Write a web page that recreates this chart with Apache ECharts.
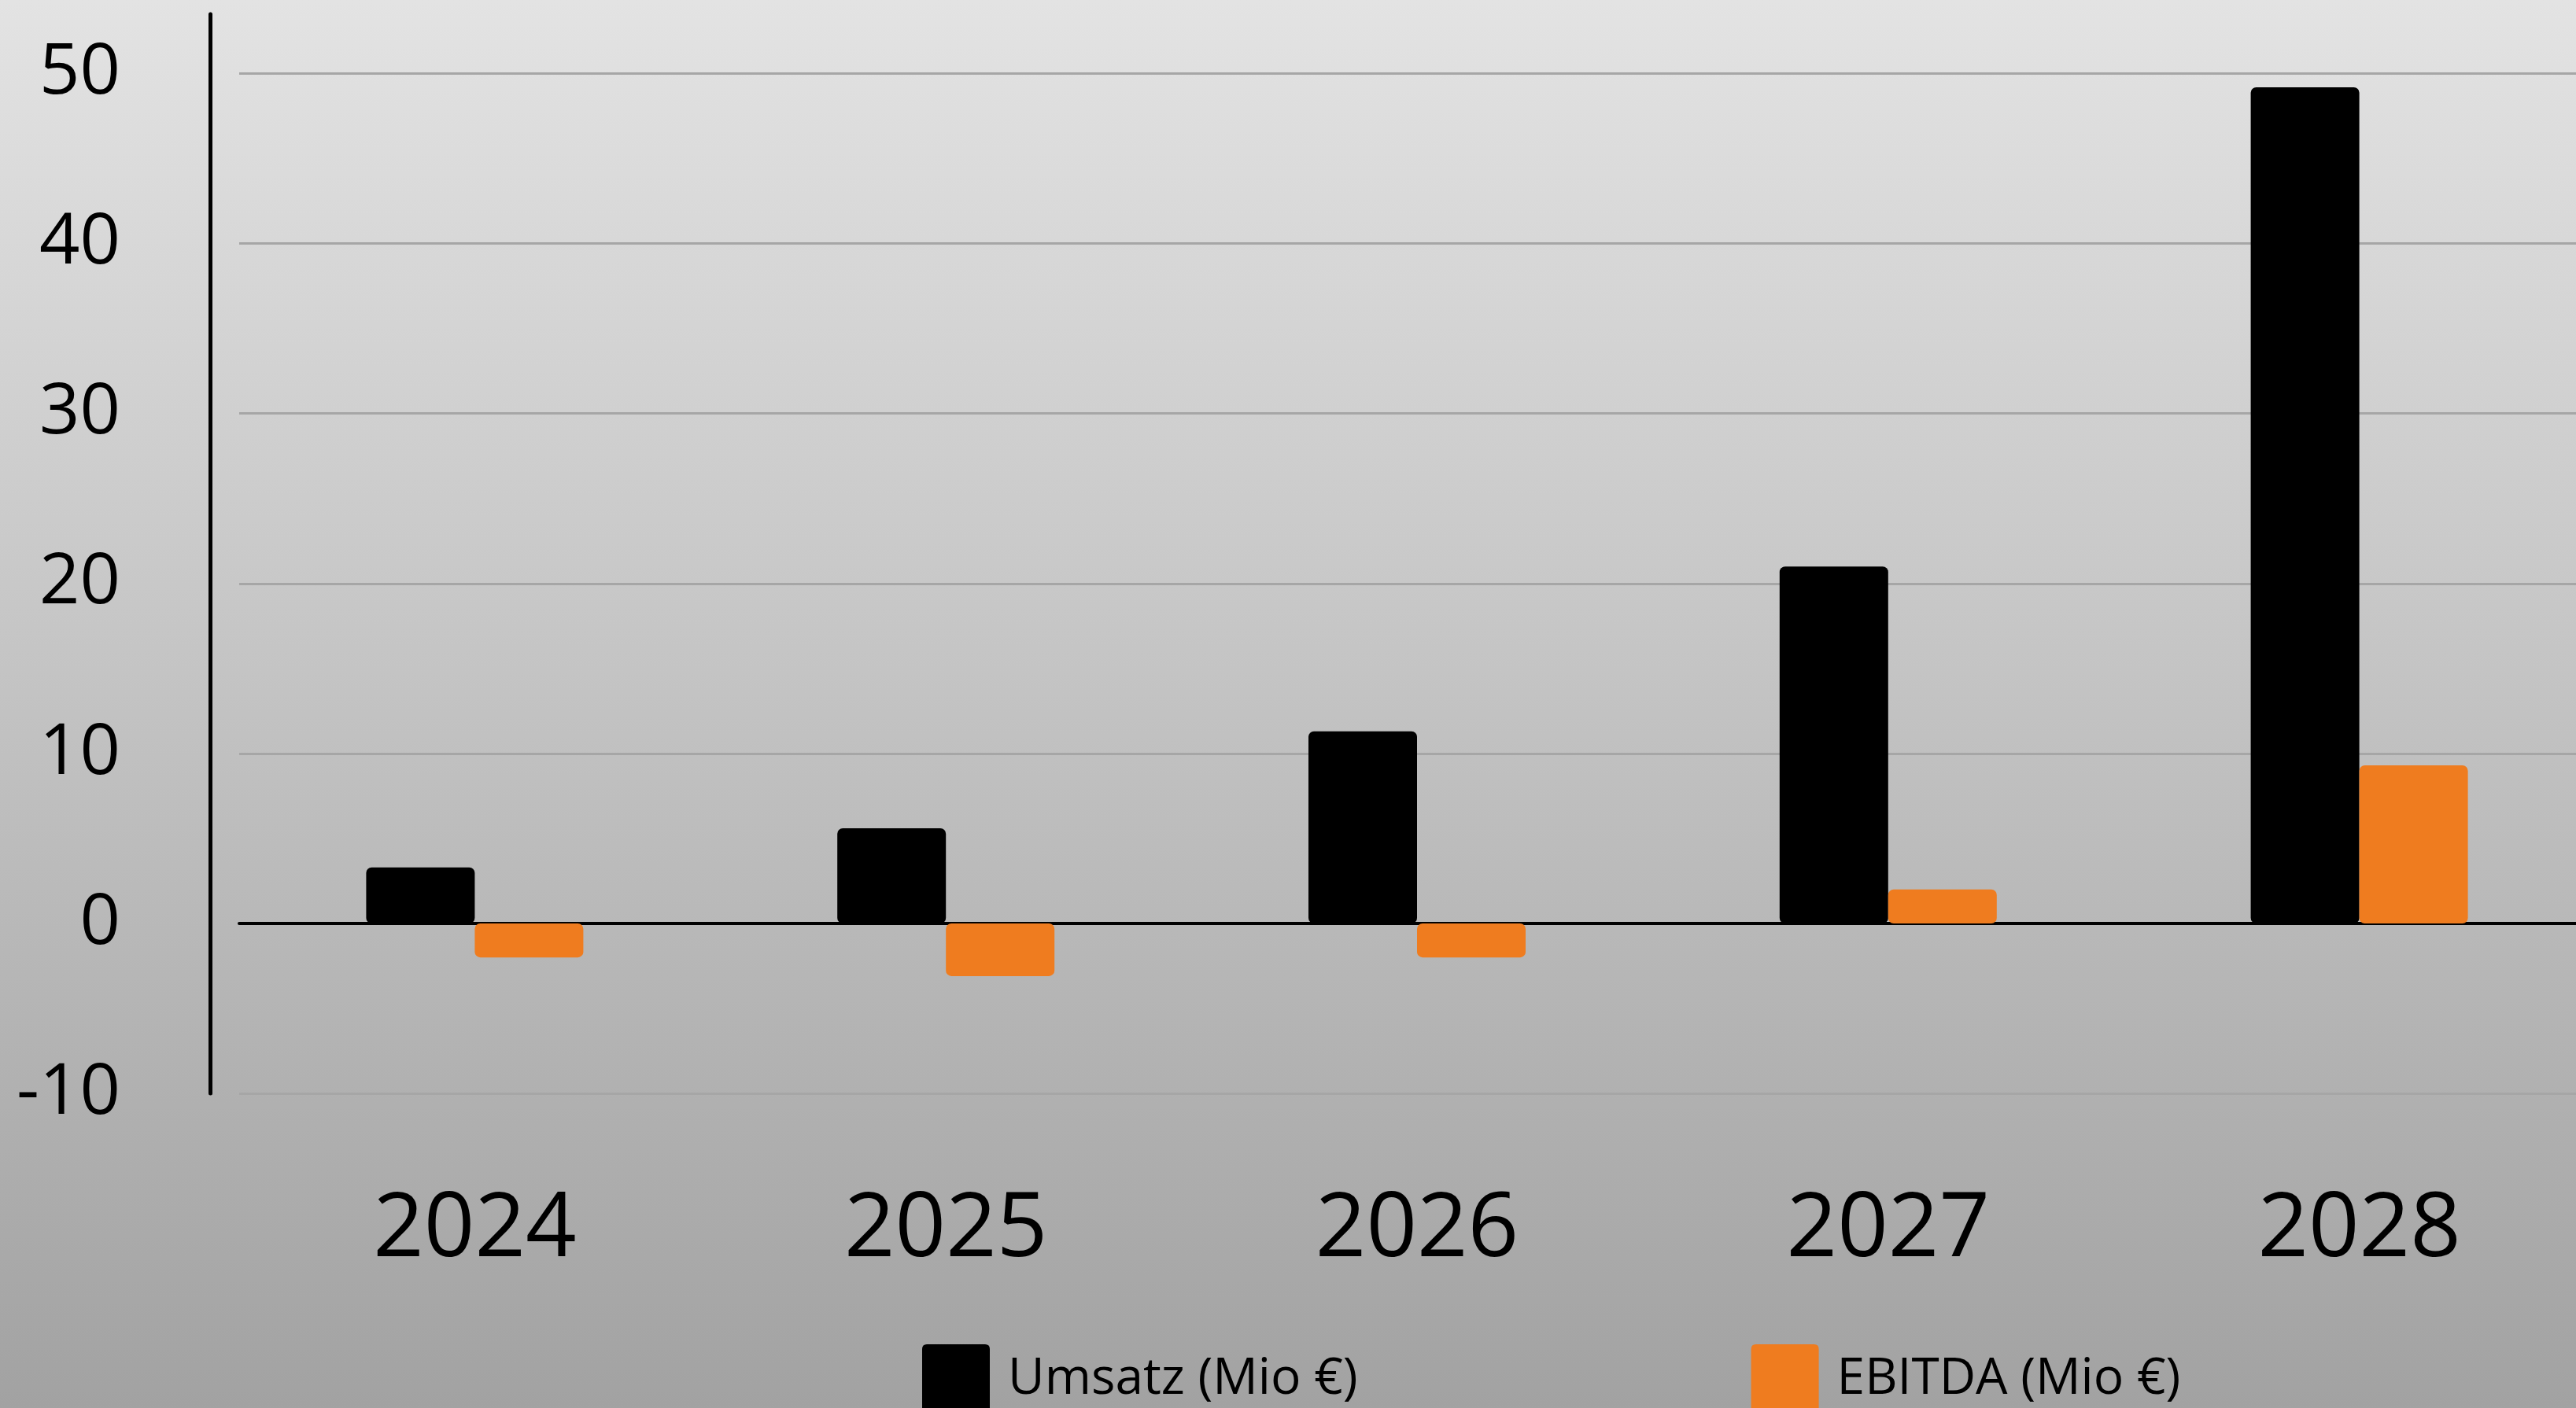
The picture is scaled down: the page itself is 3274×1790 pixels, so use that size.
<!DOCTYPE html>
<html>
   <head>
       <meta charset="utf-8">
       <style>
           html, body { margin: 0; padding: 0; overflow: hidden; }
       </style>
   </head>
   <body>
       <div id="container" style="width: 3274px;height: 1790px;"></div>
   </body>
</html>
<script type="text/javascript" src="https://cdn.jsdelivr.net/npm/echarts@6/dist/echarts.min.js"></script>
<script type="text/javascript">
    // Daten
    const years = ['2024', '2025', '2026', '2027', '2028'];
    const umsatz = [3.3, 5.6, 11.3, 21.0, 49.2];
    const ebitda = [-2.0, -3.1, -2.0, 2.0, 9.3];
    const seriesNames = ['Umsatz (Mio €)', 'EBITDA (Mio €)'];
    const yMin = -10;
    const yMax = 53.5;
    const yStep = 10;

    drawChart();
    function drawChart() {
        const font = 'Open Sans';
        const dom = document.getElementById("container");
        const myChart = echarts.init(dom);
        const option = {
            animation: false,
            backgroundColor: {
                type: 'linear', x: 0, y: 0, x2: 0, y2: 1,
                colorStops: [
                    {offset: 0, color: '#e3e3e3'},
                    {offset: 1, color: '#a2a2a2'}
                ]
            },
            textStyle: { fontFamily: font },
            grid: {
                left: 304,
                right: -24,
                top: 18,
                bottom: 400,
                outerBoundsMode: 'none',
                containLabel: false
            },
            legend: {
                left: 1167,
                top: 1704,
                itemWidth: 86,
                itemHeight: 90,
                itemGap: 500,
                // kleines Rechteck mit leicht runden Ecken
                icon: 'path://M6,0 H80 Q86,0 86,6 V84 Q86,90 80,90 H6 Q0,90 0,84 V6 Q0,0 6,0 Z',
                textStyle: {
                    fontFamily: font,
                    fontSize: 64,
                    color: '#000',
                    padding: [0, 0, 0, 18]
                },
                data: seriesNames
            },
            xAxis: {
                type: 'category',
                data: years,
                axisTick: { show: false },
                axisLine: {
                    onZero: true,
                    lineStyle: { color: '#000', width: 4 }
                },
                axisLabel: {
                    margin: 118,
                    fontSize: 113,
                    color: '#000',
                    fontFamily: font
                }
            },
            yAxis: {
                type: 'value',
                min: yMin,
                max: yMax,
                interval: yStep,
                offset: 37,
                axisLine: {
                    show: true,
                    lineStyle: { color: '#000', width: 5 }
                },
                axisTick: { show: false },
                axisLabel: {
                    margin: 114,
                    fontSize: 90,
                    color: '#000',
                    fontFamily: font,
                    showMaxLabel: false
                },
                splitLine: {
                    show: true,
                    showMaxLine: false,
                    lineStyle: { color: '#a6a6a6', width: 3 }
                }
            },
            series: [
                {
                    name: seriesNames[0],
                    type: 'bar',
                    barWidth: 138,
                    barGap: '0%',
                    itemStyle: { color: '#000', borderRadius: 7 },
                    data: umsatz
                },
                {
                    name: seriesNames[1],
                    type: 'bar',
                    barWidth: 138,
                    barGap: '0%',
                    itemStyle: { color: '#ef7c1f', borderRadius: 7 },
                    data: ebitda
                }
            ]
        };
        myChart.setOption(option, true);
    }
</script>
